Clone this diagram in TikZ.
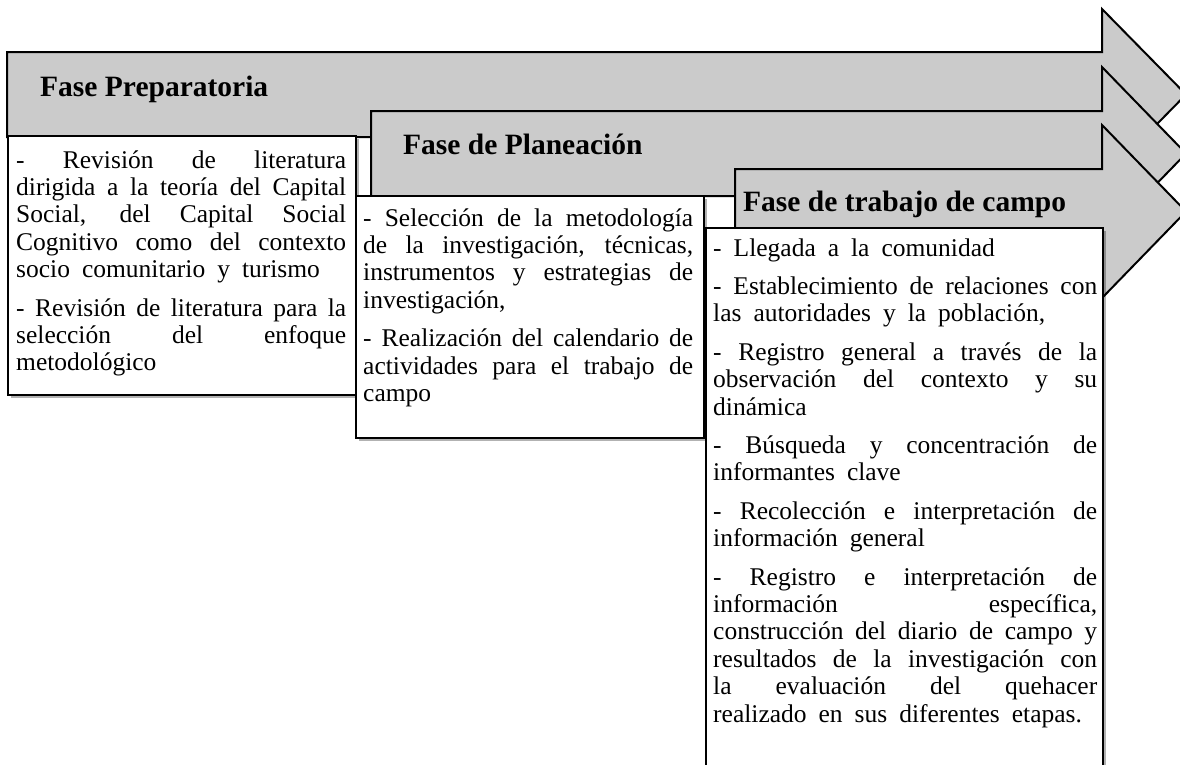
\documentclass[tikz,border=0pt]{standalone}
\usepackage{fontspec}
\setmainfont{Liberation Serif}
\usetikzlibrary{shadows}
\definecolor{arrowgray}{RGB}{203,203,203}
\newcommand{\bodysetup}{\setlength{\parindent}{0pt}\setlength{\parskip}{11pt}%
  \setlength{\baselineskip}{27.4pt}%
  \spaceskip=12pt plus 40pt minus 6pt\xspaceskip=12pt plus 40pt minus 6pt%
  \hyphenpenalty=10000\exhyphenpenalty=10000\tolerance=10000\pretolerance=-1\hbadness=10000}
\tikzset{
  phase/.style={fill=arrowgray, draw=black, line width=2pt, line join=miter},
  itembox/.style={fill=white, draw=black, line width=2pt,
    drop shadow={shadow xshift=2.5pt, shadow yshift=-2.5pt, opacity=0.3, fill=black}},
  phasetitle/.style={anchor=base west, inner sep=0pt, font=\fontsize{29.5}{31}\selectfont\bfseries},
  bodytext/.style={anchor=base west, inner sep=0pt, text width=#1, align=justify,
    font=\fontsize{25.5}{27.4}\selectfont}
}
\begin{document}
\begin{tikzpicture}[x=1pt,y=-1pt]
\useasboundingbox (0,0) rectangle (1180,764);
\clip (0,0) rectangle (1180,764);
\fill[white] (0,0) rectangle (1180,764);
% Arrow 1
\draw[phase] (7,52) -- (1102,52) -- (1102,9) -- (1186,94.5) -- (1102,180) -- (1102,137) -- (7,137) -- cycle;
\node[phasetitle] (t1) at (40,96.5) {Fase Preparatoria};
% Box 1
\draw[itembox] (8,136) rectangle (356,395);
\node[bodytext=330pt] (b1) at (16,168) {\bodysetup
- Revisión de literatura\linebreak
dirigida a la teoría del Capital\linebreak
Social, del Capital Social\linebreak
Cognitivo como del contexto\linebreak
socio comunitario y turismo\par
- Revisión de literatura para la\linebreak
selección del enfoque\linebreak
metodológico\par};
% Arrow 2
\draw[phase] (371,111) -- (1102,111) -- (1102,67) -- (1186,153.5) -- (1102,240) -- (1102,196) -- (371,196) -- cycle;
\node[phasetitle] (t2) at (403,154.5) {Fase de Planeación};
% Box 2
\draw[itembox] (356,196) rectangle (704,438);
\node[bodytext=330pt] (b2) at (363,226) {\bodysetup
- Selección de la metodología\linebreak
de la investigación, técnicas,\linebreak
instrumentos y estrategias de\linebreak
investigación,\par
- Realización del calendario de\linebreak
actividades para el trabajo de\linebreak
campo\par};
% Arrow 3
\draw[phase] (735,169) -- (1102,169) -- (1102,125) -- (1186,211.5) -- (1102,298) -- (1102,254) -- (735,254) -- cycle;
\node[phasetitle] (t3) at (743,211.5) {Fase de trabajo de campo};
% Box 3
\draw[itembox] (706,228) rectangle (1103,790);
\node[bodytext=384pt] (b3) at (713,256) {\bodysetup
- Llegada a la comunidad\par
- Establecimiento de relaciones con\linebreak
las autoridades y la población,\par
- Registro general a través de la\linebreak
observación del contexto y su\linebreak
dinámica\par
- Búsqueda y concentración de\linebreak
informantes clave\par
- Recolección e interpretación de\linebreak
información general\par
- Registro e interpretación de\linebreak
información específica,\linebreak
construcción del diario de campo y\linebreak
resultados de la investigación con\linebreak
la evaluación del quehacer\linebreak
realizado en sus diferentes etapas.\par};
\end{tikzpicture}
\end{document}
